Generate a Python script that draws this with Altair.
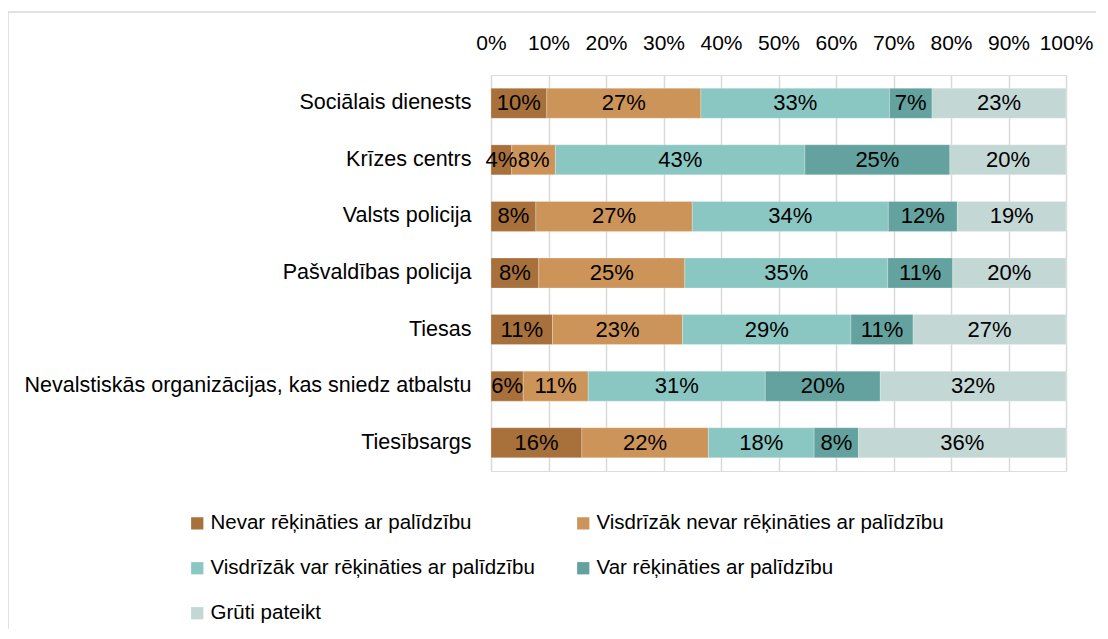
import altair as alt
import pandas as pd

categories = [
    "Sociālais dienests",
    "Krīzes centrs",
    "Valsts policija",
    "Pašvaldības policija",
    "Tiesas",
    "Nevalstiskās organizācijas, kas sniedz atbalstu",
    "Tiesībsargs",
]
series = [
    "Nevar rēķināties ar palīdzību",
    "Visdrīzāk nevar rēķināties ar palīdzību",
    "Visdrīzāk var rēķināties ar palīdzību",
    "Var rēķināties ar palīdzību",
    "Grūti pateikt",
]
nevar = [9.7, 3.6, 7.8, 8.3, 10.7, 5.6, 15.8]
visdrizak_nevar = [26.8, 7.6, 27.2, 25.4, 22.6, 11.3, 22.0]
visdrizak_var = [32.8, 43.4, 34.1, 35.3, 29.3, 30.8, 18.4]
var = [7.4, 25.2, 12.0, 11.3, 10.8, 20.0, 7.7]
gruti = [23.3, 20.2, 18.9, 19.7, 26.6, 32.3, 36.1]
colors = ["#A8703A", "#CD9459", "#8AC7C3", "#63A29E", "#C3D7D5"]
x_ticks = [0, 10, 20, 30, 40, 50, 60, 70, 80, 90, 100]

FONT = "Liberation Sans"

rows = []
for si, (s, vals) in enumerate(zip(series, [nevar, visdrizak_nevar, visdrizak_var, var, gruti])):
    for c, v in zip(categories, vals):
        rows.append({"cat": c, "series": s, "order": si, "value": v})
df = pd.DataFrame(rows)

base = alt.Chart(df).transform_stack(
    stack="value", groupby=["cat"], as_=["x0", "x1"], sort=[alt.SortField("order")]
).transform_calculate(
    mid="(datum.x0 + datum.x1) / 2",
    label="format(datum.value, '.0f') + '%'",
)

yenc = alt.Y(
    "cat:N",
    sort=categories,
    scale=alt.Scale(paddingInner=0.47, paddingOuter=0.235),
    axis=alt.Axis(
        title=None, ticks=False, domain=False, labelPadding=20,
        labelFont=FONT, labelFontSize=21.5, labelColor="#000000", labelLimit=600,
    ),
)

bars = base.mark_bar(stroke="#ffffff", strokeWidth=0.4, strokeOpacity=0.6).encode(
    x=alt.X(
        "x0:Q",
        scale=alt.Scale(domain=[0, 100], nice=False),
        axis=alt.Axis(
            orient="top", values=x_ticks, labelExpr="datum.value + '%'", title=None,
            ticks=False, domain=False, labelPadding=22, grid=True,
            gridColor="#D9D9D9", gridWidth=1.5, labelOverlap=False, labelFlush=False,
            labelFont=FONT, labelFontSize=21, labelColor="#000000",
        ),
    ),
    x2="x1:Q",
    y=yenc,
    color=alt.Color(
        "series:N",
        sort=series,
        scale=alt.Scale(domain=series, range=colors),
        legend=alt.Legend(
            title=None, orient="none", legendX=-304, legendY=438, columns=2,
            direction="horizontal",
            symbolType="square", symbolSize=150, symbolStrokeWidth=0,
            labelFont=FONT, labelFontSize=20.5, labelColor="#000000", labelLimit=600,
            labelOffset=3, columnPadding=38, rowPadding=24,
        ),
    ),
    order=alt.Order("order:Q"),
)

text = base.mark_text(font=FONT, fontSize=22, color="#000000").encode(
    x=alt.X("mid:Q"),
    y=yenc,
    text="label:N",
)

frame = alt.Chart(pd.DataFrame({"a": [0]})).mark_rect(
    fill=None, stroke="#D9D9D9", strokeWidth=1.5
).encode(
    x=alt.value(-483), x2=alt.value(700), y=alt.value(-63), y2=alt.value(700)
)

chart = alt.layer(frame, bars, text).properties(
    width=575, height=396,
    autosize=alt.AutoSizeParams(type="none"),
    padding={"left": 483, "top": 67, "right": 30, "bottom": 158},
).configure_view(stroke=None).configure(background="#ffffff")

chart.save("out.html", embed_options={"renderer": "svg", "actions": False})
